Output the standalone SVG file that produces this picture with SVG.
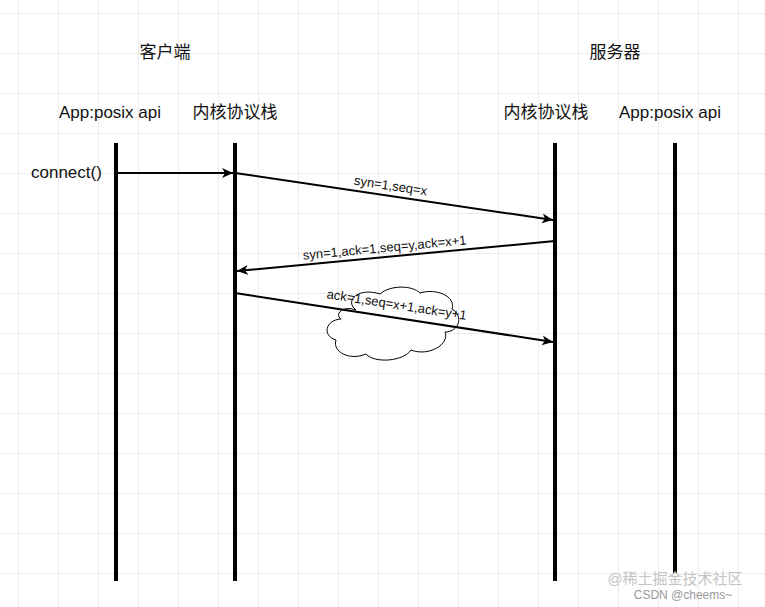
<svg xmlns="http://www.w3.org/2000/svg" width="765" height="607" viewBox="0 0 765 607">
<defs>
<pattern id="g" x="18" y="13" width="40" height="40" patternUnits="userSpaceOnUse"><path d="M40 0H0V40" fill="none" stroke="#dcdcdc" stroke-width="1"/></pattern>
<marker id="a" markerWidth="12" markerHeight="10" refX="11" refY="5" orient="auto" markerUnits="userSpaceOnUse"><path d="M0 0L11 5L0 10L3 5Z" fill="#000"/></marker>
<style>
text{font-family:"Liberation Sans","Noto Sans CJK SC",sans-serif;fill:#111}
.t{font-size:17px}.s{font-size:13px}
.life{stroke:#000;stroke-width:4}
.c{stroke:#000;stroke-width:2;fill:none;marker-end:url(#a)}
</style>
</defs>
<rect width="765" height="607" fill="#fff"/>
<rect width="765" height="607" fill="url(#g)"/>
<g id="labels">
<text class="t" x="165" y="58" text-anchor="middle">客户端</text>
<text class="t" x="615" y="58" text-anchor="middle">服务器</text>
</g>
<g id="app-client"><text class="t" x="110" y="118" text-anchor="middle">App:posix api</text><line class="life" x1="116" y1="143" x2="116" y2="581"/></g>
<g id="stack-client"><text class="t" x="235" y="118" text-anchor="middle">内核协议栈</text><line class="life" x1="235" y1="143" x2="235" y2="581"/></g>
<g id="stack-server"><text class="t" x="546" y="118" text-anchor="middle">内核协议栈</text><line class="life" x1="555" y1="143" x2="555" y2="581"/></g>
<g id="app-server"><text class="t" x="670" y="118" text-anchor="middle">App:posix api</text><line class="life" x1="675" y1="143" x2="675" y2="573"/></g>
<g id="cloud"><path d="M356 310c-12-9 2-23 24-16c10-9 32-9 40-1c16-5 36 3 32 16c12 7 7 23-7 23c5 12-16 25-34 18c-7 11-36 14-45 4c-16 7-34-2-30-14c-14-4-11-20 5-21c-7-5 2-14 15-9z" fill="#fff" stroke="#000" stroke-width="1"/></g>
<g id="connectors">
<line class="c" x1="116" y1="173" x2="233" y2="173"/>
<line class="c" x1="235" y1="173" x2="553" y2="220"/>
<line class="c" x1="555" y1="241" x2="237" y2="271"/>
<line class="c" x1="235" y1="293" x2="553" y2="342"/>
</g>
<g id="msg">
<text class="t" x="31" y="178">connect()</text>
<text class="s" transform="translate(390 190) rotate(8.4)" text-anchor="middle">syn=1,seq=x</text>
<text class="s" transform="translate(385 252) rotate(-5.4)" text-anchor="middle">syn=1,ack=1,seq=y,ack=x+1</text>
<text class="s" transform="translate(396 309) rotate(8.8)" text-anchor="middle">ack=1,seq=x+1,ack=y+1</text>
</g>
<g id="wm"><text x="675" y="584" style="font-size:15px;fill:#c4c4c4" text-anchor="middle">@稀土掘金技术社区</text><text x="683" y="599" style="font-size:12px;fill:#999" text-anchor="middle">CSDN @cheems~</text></g>
</svg>
